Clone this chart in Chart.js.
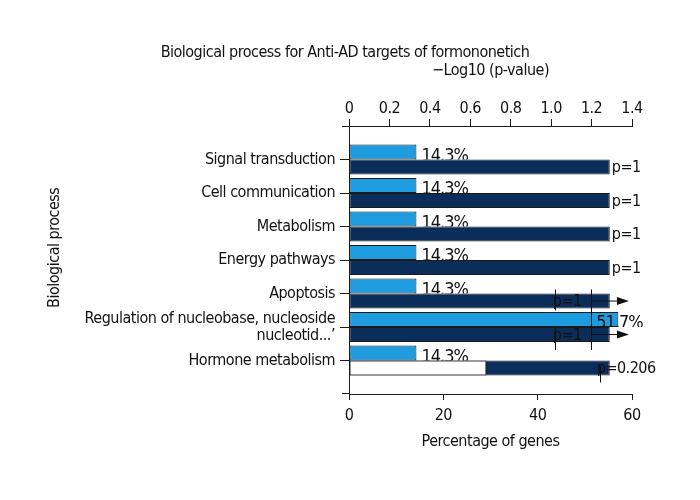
<!DOCTYPE html>
<html>
<head>
<meta charset="utf-8">
<script src="https://cdn.jsdelivr.net/npm/chart.js@4.4.1/dist/chart.umd.min.js"></script>
<style>
  html, body { margin: 0; padding: 0; background: #fff; }
  #chart { display: block; }
</style>
</head>
<body>
<canvas id="chart" width="700" height="500"></canvas>
<script>
const FONT = "'Liberation Sans Narrow', 'DejaVu Sans Condensed', 'Liberation Sans', sans-serif";

// data
const categories = [
  'Signal transduction',
  'Cell communication',
  'Metabolism',
  'Energy pathways',
  'Apoptosis',
  ['Regulation of nucleobase, nucleoside', 'nucleotid...\u2019'],
  'Hormone metabolism'
];
const genePct = [14.3, 14.3, 14.3, 14.3, 14.3, 57.1, 14.3];
const pctLabels = ['14.3%', '14.3%', '14.3%', '14.3%', '14.3%', '51.7%', '14.3%'];
const logP = [1.29, 1.29, 1.29, 1.29, 1.29, 1.29, 1.29];
const hormoneLogP = [null, null, null, null, null, null, 0.68];
const pLabels = ['p=1', 'p=1', 'p=1', 'p=1', 'p=1', 'p=1', 'p=0.206'];
const pctTicks = [0, 20, 40, 60];
const logTicks = [0, 0.2, 0.4, 0.6, 0.8, 1.0, 1.2, 1.4];
const logTickLabels = ['0', '0.2', '0.4', '0.6', '0.8', '1.0', '1.2', '1.4'];

const LIGHT = '#1e9ce0';
const DARK = '#0b2d5a';
const EDGE = '#1a1a1a';
const TEXT = '#111';
const SPACING = '-0.5px';

const toPoints = arr => arr.map((v, i) => ({ x: v, y: i })).filter(p => p.x !== null);

// label offsets (px) from bar ends, matching the reference layout
const pctShift = [5, 5, 5, 5, 5, -22, 5];
const pShift = [2, 2, 2, 2, -57, -57, -13];

// the reference uses a condensed face; tighten the letters a little
const condense = {
  id: 'condense',
  beforeLayout(chart) { chart.ctx.letterSpacing = SPACING; },
  beforeDraw(chart) { chart.ctx.letterSpacing = SPACING; }
};

const annotations = {
  id: 'annotations',
  afterDatasetsDraw(chart) {
    const ctx = chart.ctx;
    const area = chart.chartArea;
    const light = chart.getDatasetMeta(0).data;
    const dark = chart.getDatasetMeta(2).data;
    const x2 = chart.scales.x2;
    const y = chart.scales.y;
    ctx.save();
    ctx.fillStyle = TEXT;
    ctx.strokeStyle = TEXT;
    ctx.textBaseline = 'alphabetic';
    ctx.textAlign = 'left';

    // percentage labels sit partly behind the dark bar below them
    ctx.letterSpacing = '-1px';
    ctx.font = '18px ' + FONT;
    light.forEach((bar, i) => {
      const bottom = bar.y + bar.height / 2;
      ctx.save();
      ctx.beginPath();
      ctx.rect(0, 0, chart.width, bottom);
      ctx.clip();
      ctx.fillText(pctLabels[i], bar.x + pctShift[i], bottom + 1);
      ctx.restore();
    });

    ctx.letterSpacing = SPACING;
    ctx.font = '16px ' + FONT;
    dark.forEach((bar, i) => {
      ctx.fillText(pLabels[i], bar.x + pShift[i], bar.y + 5);
    });

    ctx.lineWidth = 1;
    const line = (xa, ya, xb, yb) => {
      ctx.beginPath();
      ctx.moveTo(xa, ya);
      ctx.lineTo(xb, yb);
      ctx.stroke();
    };

    // axis lines run a little past the left axis, as in the reference
    ctx.strokeStyle = EDGE;
    line(area.left - 7, Math.round(area.top) + 0.5, area.left, Math.round(area.top) + 0.5);
    line(area.left - 7, Math.round(area.bottom) - 0.5, area.left, Math.round(area.bottom) - 0.5);
    ctx.strokeStyle = TEXT;

    // whiskers and arrows on Apoptosis / Regulation / Hormone metabolism
    const c4 = y.getPixelForValue(4), c5 = y.getPixelForValue(5), c6 = y.getPixelForValue(6);
    const xl = Math.round(x2.getPixelForValue(1.02)) + 0.5;
    const xr = Math.round(x2.getPixelForValue(1.197)) + 0.5;
    const xa = x2.getPixelForValue(1.385);
    line(xl, c4 - 4, xl, c4 + 17);
    line(xl, c5, xl, c5 + 23);
    line(xr, c4 - 4, xr, c5 + 23);
    const xh = Math.round(x2.getPixelForValue(1.24)) + 0.5;
    line(xh, c6 + 5, xh, c6 + 22);
    [dark[4].y, dark[5].y].forEach(yy => {
      line(xr, yy, xa - 8, yy);
      ctx.beginPath();
      ctx.moveTo(xa, yy);
      ctx.lineTo(xa - 12, yy - 4);
      ctx.lineTo(xa - 12, yy + 4);
      ctx.closePath();
      ctx.fill();
    });
    ctx.restore();
  }
};

const tickFont = { family: FONT, size: 16, lineHeight: 1.2 };

new Chart(document.getElementById('chart'), {
  type: 'bar',
  data: {
    datasets: [
      {
        label: 'Percentage of genes',
        data: toPoints(genePct),
        xAxisID: 'x',
        stack: 'pct',
        backgroundColor: LIGHT
      },
      {
        label: 'Hormone metabolism -Log10 (p-value)',
        data: toPoints(hormoneLogP),
        xAxisID: 'x2',
        stack: 'logp',
        backgroundColor: '#ffffff'
      },
      {
        label: '-Log10 (p-value)',
        data: toPoints(logP),
        xAxisID: 'x2',
        stack: 'logp',
        backgroundColor: DARK
      }
    ]
  },
  options: {
    responsive: false,
    animation: false,
    indexAxis: 'y',
    datasets: {
      bar: {
        categoryPercentage: 0.9,
        barPercentage: 1,
        borderColor: EDGE,
        borderWidth: 1,
        borderSkipped: false
      }
    },
    layout: { padding: { left: 58, right: 68, top: 0, bottom: 0 } },
    plugins: {
      legend: { display: false },
      tooltip: { enabled: false },
      title: {
        display: true,
        text: 'Biological process for Anti-AD targets of formononetich',
        color: TEXT,
        font: { family: FONT, size: 16, weight: 'normal', lineHeight: 1 },
        padding: { top: 45, bottom: 0 }
      }
    },
    scales: {
      y: {
        type: 'linear',
        reverse: true,
        min: -1,
        max: 7,
        offset: false,
        afterBuildTicks: s => { s.ticks = categories.map((c, i) => ({ value: i })); },
        afterFit: s => { s.width = 291; },
        ticks: {
          color: TEXT,
          padding: 5,
          font: { family: FONT, size: 16, lineHeight: 1.06 },
          callback: v => categories[v]
        },
        grid: { offset: false, drawOnChartArea: false, tickLength: 9, color: EDGE },
        border: { color: EDGE },
        title: {
          display: true,
          text: '      Biological process',
          color: TEXT,
          font: { family: FONT, size: 16 },
          padding: { top: -12.6, bottom: 0 }
        }
      },
      x: {
        position: 'bottom',
        min: 0,
        max: 60,
        afterBuildTicks: s => { s.ticks = pctTicks.map(v => ({ value: v })); },
        afterFit: s => { s.height = 106; },
        ticks: { color: TEXT, padding: 6, font: tickFont },
        grid: { drawOnChartArea: false, tickLength: 6, color: EDGE },
        border: { color: EDGE },
        title: {
          display: true,
          text: 'Percentage of genes',
          color: TEXT,
          font: { family: FONT, size: 16 },
          padding: { top: 0, bottom: 49 }
        }
      },
      x2: {
        position: 'top',
        min: 0,
        max: 1.4,
        stacked: false,
        afterBuildTicks: s => { s.ticks = logTicks.map(v => ({ value: v })); },
        afterFit: s => { s.height = 65; },
        ticks: {
          color: TEXT,
          padding: 1,
          font: tickFont,
          callback: (v, i) => logTickLabels[i]
        },
        grid: { drawOnChartArea: false, tickLength: 7, color: EDGE },
        border: { color: EDGE },
        title: {
          display: true,
          text: '\u2212Log10 (p-value)',
          color: TEXT,
          font: { family: FONT, size: 16, lineHeight: 1 },
          padding: { top: 2, bottom: 0 }
        }
      }
    }
  },
  plugins: [condense, annotations]
});
</script>
</body>
</html>
